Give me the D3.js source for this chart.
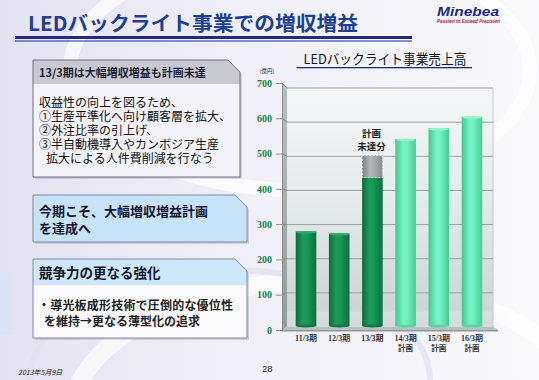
<!DOCTYPE html>
<html><head><meta charset="utf-8">
<script src="https://cdn.jsdelivr.net/npm/d3@7"></script>
<style>
html,body{margin:0;padding:0;background:#fff;}
svg{display:block;}
</style></head>
<body>
<svg id="c" width="539" height="380" font-family="'Noto Sans CJK JP','Noto Sans',sans-serif"></svg>
<script>
// ---- data ----
const categories = ["11/3期","12/3期","13/3期","14/3期","15/3期","16/3期"];
const subLabels = ["","","","計画","計画","計画"];
const sales = [280, 274, 437, 551, 582, 616];
const isPlan = [false, false, false, true, true, true];
const planTarget = [null, null, 503, null, null, null];
const yTicks = [0, 100, 200, 300, 400, 500, 600, 700];
const yUnit = "(億円)";
const chartTitle = "LEDバックライト事業売上高";
const gapLabel = ["計画", "未達分"];
const pageTitle = "LEDバックライト事業での増収増益";
const box1Header = "13/3期は大幅増収増益も計画未達";
const box1Lines = ["収益性の向上を図るため、","①生産平準化へ向け顧客層を拡大、","②外注比率の引上げ、","③半自動機導入やカンボジア生産","拡大による人件費削減を行なう"];
const box1Indent = [0,0,0,0,7];
const box2Lines = ["今期こそ、大幅増収増益計画","を達成へ"];
const box3Header = "競争力の更なる強化";
const box3Lines = ["・導光板成形技術で圧倒的な優位性","を維持→更なる薄型化の追求"];
const box3Indent = [0,6];
const dateText = "2013年5月9日";
const pageNo = "28";

const svg = d3.select("#c");
const defs = svg.append("defs");
const SERIF = "'Liberation Serif','Noto Sans CJK JP',serif";
const SANS = "'Liberation Sans',sans-serif";

// background
const bg = defs.append("linearGradient").attr("id","bg").attr("x1",0).attr("x2",1).attr("y1",0).attr("y2",0);
bg.append("stop").attr("offset",0).attr("stop-color","#e4e2f1");
bg.append("stop").attr("offset",0.45).attr("stop-color","#f1f0f8");
bg.append("stop").attr("offset",1).attr("stop-color","#f9f9fc");
svg.append("rect").attr("width",539).attr("height",380).attr("fill","url(#bg)");
const sw = svg.append("g").attr("fill","none").attr("stroke","#ffffff").attr("opacity",0.7);
sw.append("ellipse").attr("cx",300).attr("cy",70).attr("rx",230).attr("ry",120).attr("stroke-width",14);
sw.append("ellipse").attr("cx",330).attr("cy",420).attr("rx",260).attr("ry",140).attr("stroke-width",18);
sw.append("ellipse").attr("cx",230).attr("cy",380).attr("rx",200).attr("ry",110).attr("stroke","#e2e0ef").attr("stroke-width",6);
svg.append("rect").attr("x",0).attr("y",275).attr("width",14).attr("height",60).attr("fill","#d7e4f4").attr("opacity",0.8);

// page title
svg.append("text").attr("x",28).attr("y",31).text(pageTitle)
  .attr("font-size",20).attr("font-weight","bold").attr("fill","#1d3f95").attr("textLength",330).attr("lengthAdjust","spacingAndGlyphs");
svg.append("rect").attr("x",15).attr("y",36).attr("width",397).attr("height",3).attr("fill","#1f2a86");
svg.append("rect").attr("x",15).attr("y",40.5).attr("width",397).attr("height",1).attr("fill","#1f2a86");

// logo
svg.append("text").attr("x",437).attr("y",15.5).text("Minebea")
  .attr("font-family",SANS).attr("font-size",12.5).attr("font-weight","bold").attr("font-style","italic")
  .attr("fill","#1b2a8a").attr("textLength",62).attr("lengthAdjust","spacingAndGlyphs");
svg.append("text").attr("x",437).attr("y",23).text("Passion to Exceed Precision")
  .attr("font-family",SANS).attr("font-size",4.5).attr("font-style","italic").attr("font-weight","bold")
  .attr("fill","#c0102a").attr("textLength",63).attr("lengthAdjust","spacingAndGlyphs");

// boxes
function cutBox(x0,y0,x1,y1,c){
  return `M${x0},${y0}L${x1-c},${y0}L${x1},${y0+c}L${x1},${y1}L${x0},${y1}Z`;
}
function shadow(x0,y0,x1,y1,c){
  svg.append("path").attr("d",cutBox(x0+2,y0+2,x1+2,y1+2,c)).attr("fill","#000").attr("opacity",0.12);
}
shadow(33,60,240,177,12);
svg.append("path").attr("d",cutBox(33,60,240,177,12)).attr("fill","#f4f3fa");
svg.append("path").attr("d",`M33,60L228,60L240,72L240,84L33,84Z`).attr("fill","#c8c8d0");
svg.append("path").attr("d",cutBox(33,60,240,177,12)).attr("fill","none").attr("stroke","#6b6d8e").attr("stroke-width",1);
svg.append("text").attr("x",39).attr("y",76.5).text(box1Header).attr("font-size",11).attr("font-weight","bold").attr("fill","#1e1e2e");
box1Lines.forEach((t,i)=>{
  svg.append("text").attr("x",39+box1Indent[i]).attr("y",107+i*14).text(t).attr("font-size",12).attr("fill","#111");
});
shadow(33,195,247,242,12);
svg.append("path").attr("d",cutBox(33,195,247,242,12)).attr("fill","#c6e3f7").attr("stroke","#7c88a6").attr("stroke-width",1);
box2Lines.forEach((t,i)=>{
  svg.append("text").attr("x",39).attr("y",216+i*16.5).text(t).attr("font-size",13).attr("font-weight","bold").attr("fill","#151530");
});
shadow(33,259,247,338,12);
svg.append("path").attr("d",cutBox(33,259,247,338,12)).attr("fill","#fbfbfd");
svg.append("path").attr("d",`M33,259L235,259L247,271L247,285L33,285Z`).attr("fill","#cde8fa");
svg.append("path").attr("d",cutBox(33,259,247,338,12)).attr("fill","none").attr("stroke","#7c88a6").attr("stroke-width",1);
svg.append("text").attr("x",39).attr("y",278).text(box3Header).attr("font-size",13.5).attr("font-weight","bold").attr("fill","#151530");
box3Lines.forEach((t,i)=>{
  svg.append("text").attr("x",38+box3Indent[i]).attr("y",310+i*15.5).text(t).attr("font-size",12).attr("font-weight","bold").attr("fill","#222")
    .attr("textLength", i===0?195:null);
});

// footer
svg.append("text").attr("x",18).attr("y",375).text(dateText).attr("font-size",7).attr("font-style","italic").attr("fill","#222");
svg.append("text").attr("x",262).attr("y",372).text(pageNo).attr("font-family",SANS).attr("font-size",9.5).attr("fill","#222");

// ---- chart ----
const wallL = 287, wallR = 493, wallTop = 88, wallBot = 327;
const axisX = 282;
const yWall = d3.scaleLinear().domain([0,700]).range([wallBot, wallTop]);
const yFront = d3.scaleLinear().domain([0,700]).range([330, 83]);
const x = d3.scaleBand().domain(categories).range([289.4, 488.6]).paddingInner(0.38).paddingOuter(0.19);

svg.append("text").attr("x",385).attr("y",64).attr("text-anchor","middle").text(chartTitle)
  .attr("font-size",13.5).attr("fill","#111").attr("textLength",163).attr("lengthAdjust","spacingAndGlyphs");
svg.append("rect").attr("x",297).attr("y",67).attr("width",175).attr("height",1.3).attr("fill","#1f2a86");

const wg = defs.append("linearGradient").attr("id","wall").attr("x1",0).attr("x2",0).attr("y1",0).attr("y2",1);
wg.append("stop").attr("offset",0).attr("stop-color","#f6f8f8");
wg.append("stop").attr("offset",0.5).attr("stop-color","#e4e9e9");
wg.append("stop").attr("offset",0.93).attr("stop-color","#cdd6d5");
wg.append("stop").attr("offset",0.94).attr("stop-color","#d8dfde");
wg.append("stop").attr("offset",1).attr("stop-color","#d3dad9");
svg.append("rect").attr("x",wallL).attr("y",wallTop).attr("width",wallR-wallL).attr("height",wallBot-wallTop).attr("fill","url(#wall)");
const sg = defs.append("linearGradient").attr("id","side").attr("x1",0).attr("x2",0).attr("y1",0).attr("y2",1);
sg.append("stop").attr("offset",0).attr("stop-color","#b9c0c0");
sg.append("stop").attr("offset",1).attr("stop-color","#949c9c");
svg.append("path").attr("d",`M${axisX},83L${wallL},${wallTop}L${wallL},${wallBot}L${axisX},330Z`).attr("fill","url(#side)");
svg.append("path").attr("d",`M${axisX},330L${wallL},${wallBot}L${wallR},${wallBot}L498,330Z`).attr("fill","#b9c1c0");
svg.append("path").attr("d",`M${axisX},330L498,330L498,331.5L${axisX},331.5Z`).attr("fill","#8f9898");
svg.append("path").attr("d",`M${wallR},${wallTop}L${wallR},${wallBot}L498,330`).attr("fill","none").attr("stroke","#c4cbcb").attr("stroke-width",1);

const grid = svg.append("g");
grid.selectAll("line.g").data(yTicks.filter(t=>t>0)).join("line").attr("class","g")
  .attr("x1",wallL).attr("x2",wallR).attr("y1",d=>yWall(d)).attr("y2",d=>yWall(d))
  .attr("stroke","#9aa2a2").attr("stroke-width",1);
grid.selectAll("line.s").data(yTicks.filter(t=>t>0)).join("line").attr("class","s")
  .attr("x1",axisX).attr("x2",wallL).attr("y1",d=>yFront(d)).attr("y2",d=>yWall(d))
  .attr("stroke","#7d8585").attr("stroke-width",1);

const yAxis = svg.append("g").attr("transform",`translate(${axisX},0)`)
  .call(d3.axisLeft(yFront).tickValues(yTicks).tickSize(6).tickPadding(4));
yAxis.attr("font-family",SERIF).attr("font-size",10);
yAxis.select(".domain").attr("stroke","#8a9090");
yAxis.selectAll(".tick line").attr("stroke","#8a9090");
yAxis.selectAll(".tick text").attr("font-weight","bold").attr("fill","#12844a");
svg.append("text").attr("x",267).attr("y",72.5).attr("text-anchor","middle").text(yUnit).attr("font-size",5.5).attr("fill","#222");

function cyl(id, stops){
  const g = defs.append("linearGradient").attr("id",id).attr("x1",0).attr("x2",1).attr("y1",0).attr("y2",0);
  stops.forEach(([o,c])=>g.append("stop").attr("offset",o).attr("stop-color",c));
}
cyl("dark",[[0,"#0b6c3c"],[0.35,"#1c9b5b"],[0.55,"#1a9757"],[1,"#0c7040"]]);
cyl("light",[[0,"#3fc890"],[0.4,"#79f3c6"],[0.6,"#72eebf"],[1,"#45cc95"]]);
cyl("gray",[[0,"#7d8181"],[0.4,"#b3b7b7"],[0.6,"#a9adad"],[1,"#858989"]]);

const bars = svg.append("g");
const barData = categories.map((c,i)=>({c, v:sales[i], plan:isPlan[i], target:planTarget[i]}));
const bw = x.bandwidth();
bars.selectAll("rect.gap").data(barData.filter(d=>d.target!=null)).join("rect").attr("class","gap")
  .attr("x",d=>x(d.c)).attr("width",bw)
  .attr("y",d=>yWall(d.target)).attr("height",d=>yWall(d.v)-yWall(d.target))
  .attr("fill","url(#gray)").attr("stroke","#ffffff").attr("stroke-dasharray","2,1.5").attr("stroke-width",1);
bars.selectAll("rect.bar").data(barData).join("rect").attr("class","bar")
  .attr("x",d=>x(d.c)).attr("width",bw)
  .attr("y",d=>yWall(d.v)).attr("height",d=>wallBot-1-yWall(d.v))
  .attr("fill",d=>d.plan?"url(#light)":"url(#dark)");
bars.selectAll("ellipse.bot").data(barData).join("ellipse").attr("class","bot")
  .attr("cx",d=>x(d.c)+bw/2).attr("cy",wallBot-1).attr("rx",bw/2).attr("ry",1.5)
  .attr("fill",d=>d.plan?"#55d8a6":"#117845");
bars.selectAll("ellipse.top").data(barData.filter(d=>d.target==null)).join("ellipse").attr("class","top")
  .attr("cx",d=>x(d.c)+bw/2).attr("cy",d=>yWall(d.v)+1).attr("rx",bw/2-0.5).attr("ry",1.2)
  .attr("fill",d=>d.plan?"#8ff7d2":"#2aa868");

const gapD = barData.find(d=>d.target!=null);
gapLabel.forEach((t,i)=>{
  svg.append("text").attr("x",x(gapD.c)+bw/2-1).attr("y",yWall(gapD.target)-18+i*13).attr("text-anchor","middle")
    .text(t).attr("font-size",9.5).attr("font-weight","bold").attr("fill","#222");
});

const xl = svg.append("g");
xl.selectAll("text.c").data(categories).join("text").attr("class","c")
  .attr("x",d=>x(d)+bw/2).attr("y",340.5).attr("text-anchor","middle").text(d=>d)
  .attr("font-family",SERIF).attr("font-weight","bold").attr("font-size",8).attr("fill","#333");
xl.selectAll("text.s").data(categories.map((c,i)=>({c,s:subLabels[i]}))).join("text").attr("class","s")
  .attr("x",d=>x(d.c)+bw/2).attr("y",350.5).attr("text-anchor","middle").text(d=>d.s)
  .attr("font-weight","bold").attr("font-size",7.5).attr("fill","#333");
</script>
</body></html>
